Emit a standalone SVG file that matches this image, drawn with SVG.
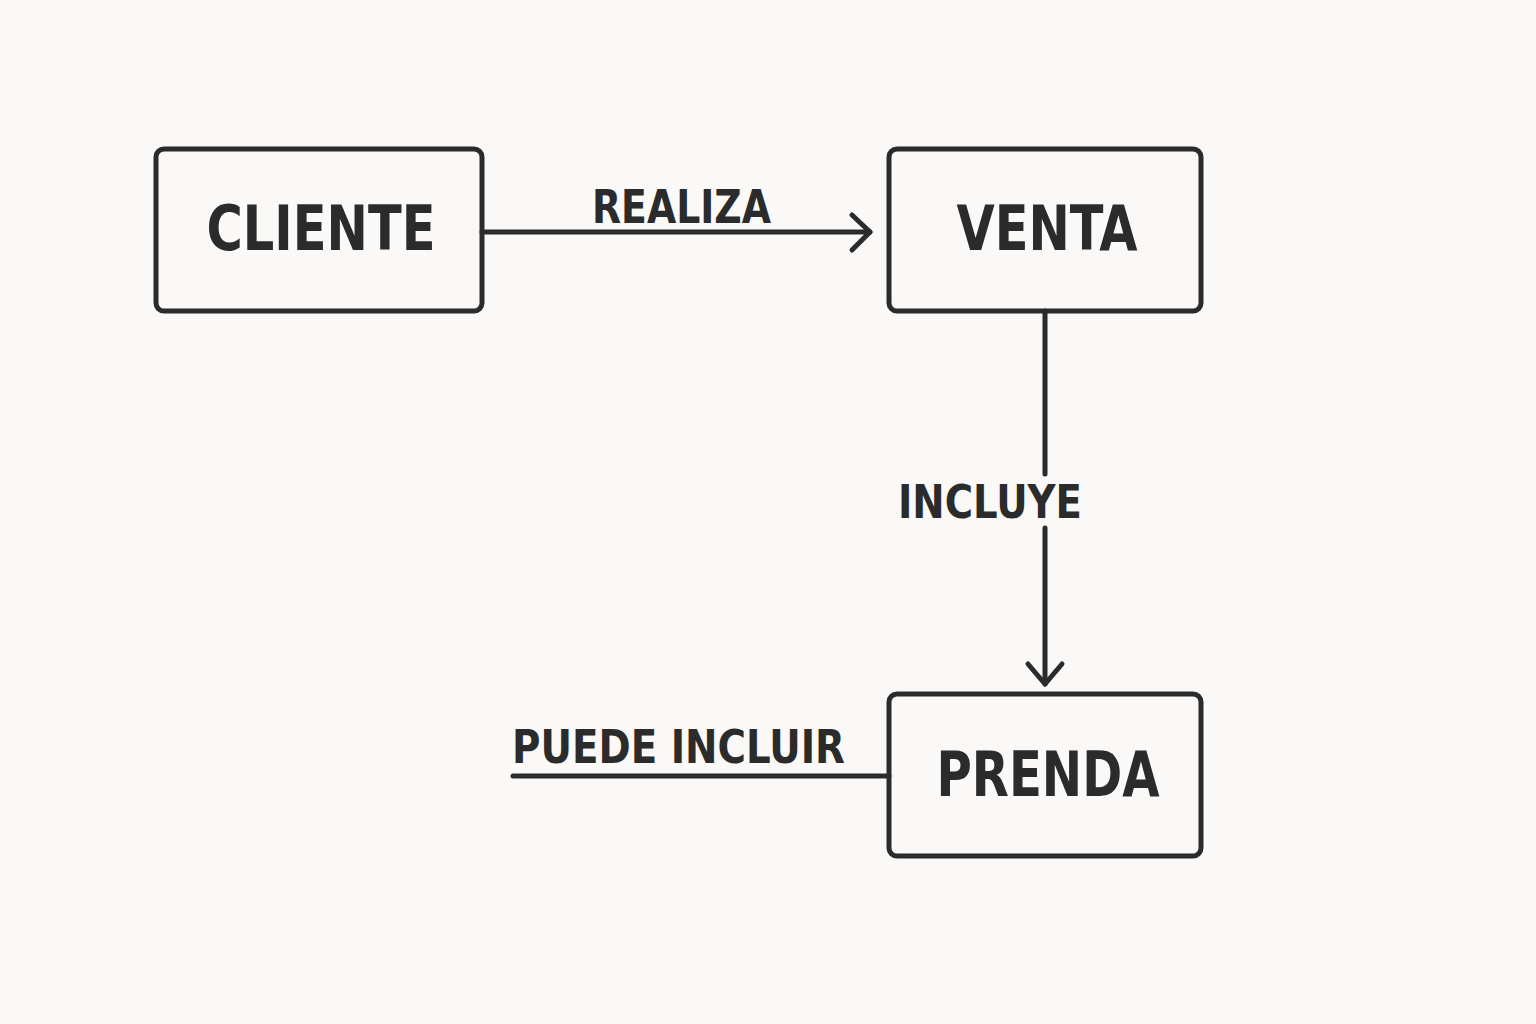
<svg xmlns="http://www.w3.org/2000/svg" width="1536" height="1024" viewBox="0 0 1536 1024">
<defs>
<style>
.box{fill:none;stroke:#2b2b2b;stroke-width:5}
.conn{fill:none;stroke:#2b2b2b;stroke-width:5;stroke-linecap:round}
.head{fill:none;stroke:#2b2b2b;stroke-width:5;stroke-linecap:round;stroke-linejoin:round}
.node{font-family:"DejaVu Sans Condensed","DejaVu Sans",sans-serif;font-weight:bold;font-size:62px;fill:#2b2b2b;text-anchor:middle}
.lbl{font-family:"DejaVu Sans Condensed","DejaVu Sans",sans-serif;font-weight:bold;font-size:47px;fill:#2b2b2b}
</style>
</defs>
<rect width="1536" height="1024" fill="#faf9f7"/>
<g id="connectors">
<line class="conn" x1="482" y1="232" x2="870" y2="232"/>
<polyline class="head" points="852,215 870,232 852,250"/>
<text class="lbl" x="592" y="223" textLength="179" lengthAdjust="spacingAndGlyphs">REALIZA</text>
<line class="conn" x1="1045" y1="311" x2="1045" y2="474"/>
<line class="conn" x1="1045" y1="528" x2="1045" y2="684"/>
<polyline class="head" points="1028,664 1045,684 1062,664"/>
<text class="lbl" x="898" y="518" textLength="184" lengthAdjust="spacingAndGlyphs">INCLUYE</text>
<line class="conn" x1="513" y1="776" x2="889" y2="776"/>
<text class="lbl" x="512" y="763" textLength="333" lengthAdjust="spacingAndGlyphs">PUEDE INCLUIR</text>
</g>
<g id="cliente">
<rect class="box" x="156" y="149" width="326" height="162" rx="8"/>
<text class="node" x="321" y="250" textLength="229" lengthAdjust="spacingAndGlyphs">CLIENTE</text>
</g>
<g id="venta">
<rect class="box" x="889" y="149" width="312" height="162" rx="8"/>
<text class="node" x="1047" y="250" textLength="181" lengthAdjust="spacingAndGlyphs">VENTA</text>
</g>
<g id="prenda">
<rect class="box" x="889" y="694" width="312" height="162" rx="8"/>
<text class="node" x="1048" y="796" textLength="223" lengthAdjust="spacingAndGlyphs">PRENDA</text>
</g>
</svg>
